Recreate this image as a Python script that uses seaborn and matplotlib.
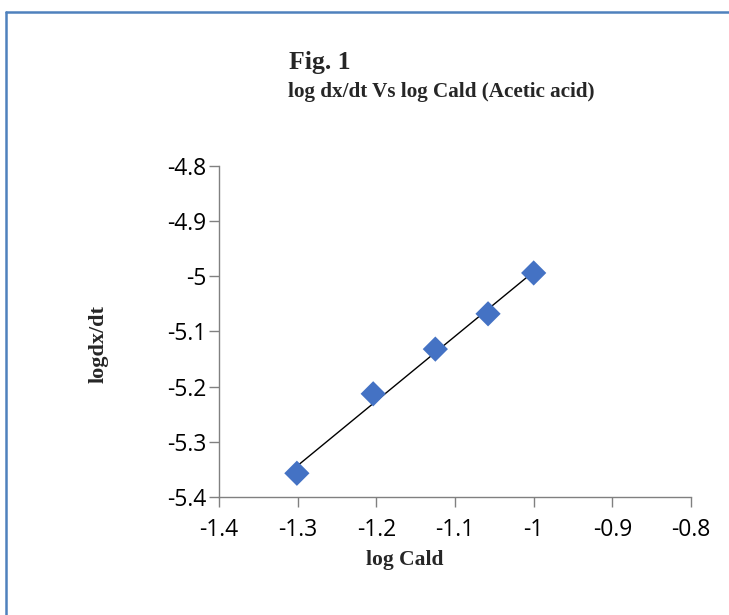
import numpy as np
import pandas as pd
import matplotlib
matplotlib.use("Agg")
import matplotlib.pyplot as plt
import seaborn as sns
from matplotlib.lines import Line2D

# 数据
log_cald = [-1.301, -1.204, -1.125, -1.058, -1.000]
log_dxdt = [-5.357, -5.213, -5.132, -5.068, -4.994]
x_ticks = [-1.4, -1.3, -1.2, -1.1, -1.0, -0.9, -0.8]
x_tick_labels = ["-1.4", "-1.3", "-1.2", "-1.1", "-1", "-0.9", "-0.8"]
y_ticks = [-5.4, -5.3, -5.2, -5.1, -5.0, -4.9, -4.8]
y_tick_labels = ["-5.4", "-5.3", "-5.2", "-5.1", "-5", "-4.9", "-4.8"]

df = pd.DataFrame({"log Cald": log_cald, "logdx/dt": log_dxdt})

sns.set_style("white")
plt.rcParams['font.family'] = ['Open Sans', 'DejaVu Sans']

fig = plt.figure(figsize=(7.29, 6.15), dpi=100)
ax = fig.add_axes([0.3004, 0.1919, 0.6475, 0.5383])

sns.regplot(data=df, x="log Cald", y="logdx/dt", scatter=False, ci=None,
            color="black", line_kws={"lw": 1.0}, ax=ax)
sns.scatterplot(data=df, x="log Cald", y="logdx/dt", marker="D", s=165,
                color="#4472C4", edgecolor="none", zorder=3, ax=ax)

ax.set_xlim(-1.4, -0.8)
ax.set_ylim(-5.4, -4.8)
ax.set_xticks(x_ticks)
ax.set_xticklabels(x_tick_labels)
ax.set_yticks(y_ticks)
ax.set_yticklabels(y_tick_labels)
ax.tick_params(axis="both", bottom=True, left=True, direction="out", length=7,
               width=1, color="#808080", labelsize=16.5, labelcolor="black")
ax.tick_params(axis="x", pad=8)
ax.tick_params(axis="y", pad=2)
for side in ["top", "right"]:
    ax.spines[side].set_visible(False)
for side in ["left", "bottom"]:
    ax.spines[side].set_color("#808080")
    ax.spines[side].set_linewidth(1)

ax.set_xlabel("log Cald", family=["Liberation Serif"], fontweight="bold",
              fontsize=15.5, va="center")
ax.xaxis.set_label_coords(0.394, -0.19)
ax.set_ylabel("logdx/dt", family=["Liberation Serif"], fontweight="bold",
              fontsize=16, va="center")
ax.yaxis.set_label_coords(-0.254, 0.462)

fig.text(0.397, 0.898, "Fig. 1", family=["Liberation Serif"], fontweight="bold",
         fontsize=18.5, ha="left", va="center")
fig.text(0.395, 0.850, "log dx/dt Vs log Cald (Acetic acid)", family=["Liberation Serif"],
         fontweight="bold", fontsize=15.2, ha="left", va="center")

# 外框 (左边和上边的蓝线)
fig.add_artist(Line2D([0.0085, 0.0085], [0.0, 0.981], color="#4F81BD", lw=1.8,
                      transform=fig.transFigure))
fig.add_artist(Line2D([0.0085, 1.0], [0.981, 0.981], color="#4F81BD", lw=1.8,
                      transform=fig.transFigure))

fig.savefig("out.png", dpi=100)
